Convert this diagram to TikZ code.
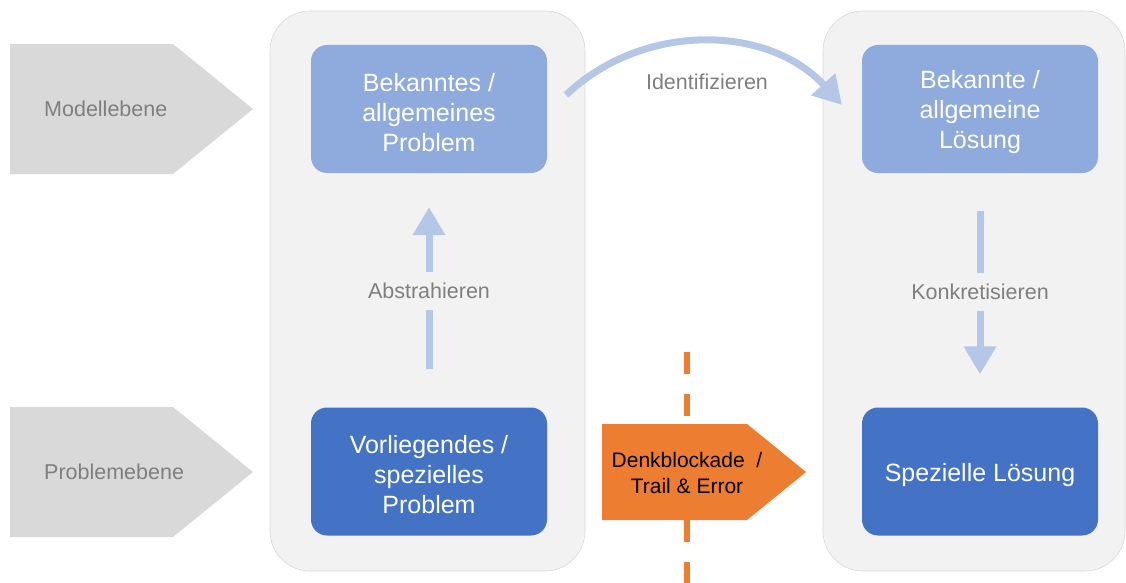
\documentclass[tikz,border=0pt]{standalone}
\usepackage{fontspec}
\setmainfont{Liberation Sans}
\usetikzlibrary{arrows.meta}
\definecolor{panel}{HTML}{F2F2F2}
\definecolor{panelline}{HTML}{D9D9D9}
\definecolor{lightblue}{HTML}{8FAADC}
\definecolor{darkblue}{HTML}{4472C4}
\definecolor{arrowblue}{HTML}{B4C7E7}
\definecolor{levelgray}{HTML}{D9D9D9}
\definecolor{labelgray}{HTML}{7F7F7F}
\definecolor{blockorange}{HTML}{ED7D31}

\begin{document}
\begin{tikzpicture}[x=1pt,y=-1pt,
  panelbox/.style={fill=panel, draw=panelline, line width=0.6pt, rounded corners=40pt},
  stagebox/.style={minimum width=236pt, minimum height=128pt, rounded corners=16pt, inner sep=0pt},
  stagetext/.style={text=white, align=center, inner sep=0pt, font=\fontsize{25}{30}\selectfont},
  levelshape/.style={fill=levelgray},
  leveltext/.style={anchor=west, text=labelgray, inner sep=0pt, font=\fontsize{21.5}{26}\selectfont},
  steplabel/.style={text=labelgray, inner sep=0pt, minimum height=38pt, font=\fontsize{21.5}{26}\selectfont},
  shaft/.style={draw=arrowblue, line width=7pt},
  headtip/.style={-{Triangle[width=31pt,length=28pt]}}
]
\useasboundingbox (0,0) rectangle (1126,583);

% background panels
\path[panelbox] (270,11) rectangle (585,571);
\path[panelbox] (823,11) rectangle (1125,571);

% level markers on the left
\fill[levelshape] (10,44) -- (173,44) -- (253,109) -- (173,174) -- (10,174) -- cycle;
\node[leveltext] (modell) at (44,109) {Modellebene};
\fill[levelshape] (10,407) -- (173,407) -- (253,472) -- (173,537) -- (10,537) -- cycle;
\node[leveltext] (problem) at (44,472) {Problemebene};

% stage boxes and their texts
\node[stagebox, fill=lightblue] (bek) at (429,109) {};
\node[stagetext] (bektext) at ([yshift=-3.5pt]bek.center) {Bekanntes /\\allgemeines\\Problem};
\node[stagebox, fill=darkblue] (vor) at (429,471.5) {};
\node[stagetext] (vortext) at ([yshift=-3.5pt]vor.center) {Vorliegendes /\\spezielles\\Problem};
\node[stagebox, fill=lightblue] (bekl) at (980,109) {};
\node[stagetext] (bekltext) at ([yshift=-3.5pt]bekl.center) {Bekannte /\\allgemeine\\Lösung};
\node[stagebox, fill=darkblue] (spez) at (980,471.5) {};
\node[stagetext] (speztext) at ([yshift=-3.5pt]spez.center) {Spezielle Lösung};

% Abstrahieren
\node[steplabel] (abs) at (429,291) {Abstrahieren};
\draw[shaft] ([yshift=38pt]vor.north) -- (abs.south);
\draw[shaft, headtip] (abs.north) -- ([yshift=-34pt]bek.south);

% Konkretisieren
\node[steplabel] (konk) at (980,292) {Konkretisieren};
\draw[shaft] ([yshift=-38pt]bekl.south) -- (konk.north);
\draw[shaft, headtip] (konk.south) -- ([yshift=33pt]spez.north);

% Identifizieren
\coordinate (idstart) at (566,95);
\coordinate (idend) at (842,105);
\draw[shaft, headtip] (idstart) .. controls (644,21) and (769,25) .. (idend);
\node[text=labelgray, inner sep=0pt, font=\fontsize{21.5}{26}\selectfont] (ident) at (707,82) {Identifizieren};

% Denkblockade barrier
\coordinate (dashtop) at (687,352);
\coordinate (dashbot) at (687,584);
\draw[draw=blockorange, line width=6.5pt, dash pattern=on 22pt off 20pt] (dashtop) -- (dashbot);
\fill[blockorange] (602,424) -- (747,424) -- (806,472) -- (747,520) -- (602,520) -- cycle;
\node[align=center, inner sep=0pt, text=black, font=\fontsize{21}{26}\selectfont] (block) at (687,473) {Denkblockade\ \ /\\Trail \& Error};
\end{tikzpicture}
\end{document}
